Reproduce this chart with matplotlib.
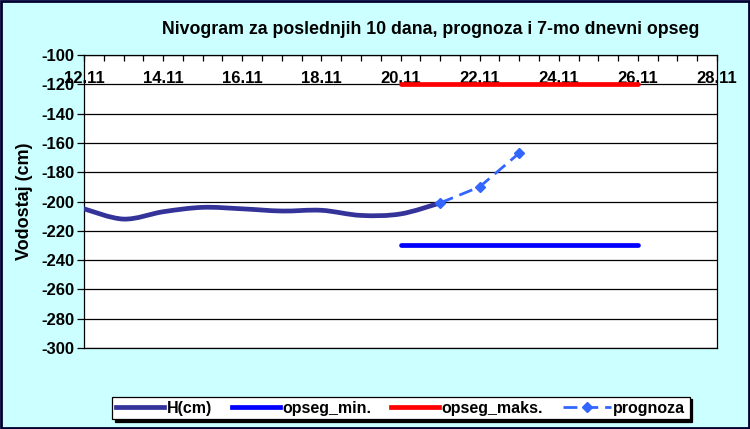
import matplotlib
matplotlib.use("Agg")
import matplotlib.pyplot as plt
from matplotlib.path import Path
from matplotlib.patches import PathPatch, Rectangle
from matplotlib.lines import Line2D
from matplotlib.ticker import MultipleLocator, FuncFormatter

plt.rcParams['font.family'] = ['Liberation Sans', 'DejaVu Sans']
plt.rcParams['font.weight'] = 'bold'
plt.rcParams['axes.unicode_minus'] = False

# ---- data (day of month, november) ----
h_days = [12, 13, 14, 15, 16, 17, 18, 19, 20, 21]
h_cm = [-205, -212, -207, -204, -205, -206.5, -206, -209.5, -208.5, -201]

opseg_days = [20, 21, 22, 23, 24, 25, 26]
opseg_min = [-230, -230, -230, -230, -230, -230, -230]
opseg_maks = [-120, -120, -120, -120, -120, -120, -120]

prog_days = [21, 22, 23]
prognoza = [-201, -190, -167]

x_min, x_max = 12, 28
y_min, y_max = -300, -100

c_h = '#333399'
c_min = '#0000FF'
c_max = '#FF0000'
c_prog = '#3366FF'
bg = '#CCFFFF'

fig = plt.figure(figsize=(7.5, 4.29), dpi=100, facecolor=bg)
ax = fig.add_axes([84/750, 1-348/429, (717-84)/750, (348-55)/429])
ax.set_facecolor('white')

# smoothed H(cm) line (excel style bezier)
pts = list(zip(h_days, h_cm))
verts = [pts[0]]
codes = [Path.MOVETO]
n = len(pts)
for i in range(n-1):
    p0 = pts[max(i-1, 0)]
    p1 = pts[i]
    p2 = pts[i+1]
    p3 = pts[min(i+2, n-1)]
    c1 = (p1[0] + (p2[0]-p0[0])/6, p1[1] + (p2[1]-p0[1])/6)
    c2 = (p2[0] - (p3[0]-p1[0])/6, p2[1] - (p3[1]-p1[1])/6)
    verts += [c1, c2, p2]
    codes += [Path.CURVE4]*3
ax.add_patch(PathPatch(Path(verts, codes), fill=False, edgecolor=c_h, lw=3.4,
                       capstyle='round', zorder=4))

ax.plot(opseg_days, opseg_min, color=c_min, lw=3.4, solid_capstyle='round', zorder=3)
ax.plot(opseg_days, opseg_maks, color=c_max, lw=3.4, solid_capstyle='round', zorder=3)
ax.plot(prog_days, prognoza, color=c_prog, lw=2, dashes=(5, 2.5), marker='D',
        markersize=5, zorder=5)

ax.set_xlim(x_min, x_max)
ax.set_ylim(y_min, y_max)
ax.yaxis.set_major_locator(MultipleLocator(20))
ax.grid(axis='y', color='black', lw=0.9)
ax.set_axisbelow(True)

ax.xaxis.set_major_locator(MultipleLocator(2))
ax.xaxis.set_minor_locator(MultipleLocator(0.5))
ax.xaxis.set_major_formatter(FuncFormatter(lambda v, p: '%d.11' % v))
ax.tick_params(axis='x', which='both', bottom=False, labelbottom=False, top=True,
               labeltop=True, direction='in', length=4, width=0.9, pad=-22,
               labelsize=12)
ax.tick_params(axis='y', direction='out', length=5, width=0.9, labelsize=12, pad=2)
for s in ax.spines.values():
    s.set_linewidth(0.9)
    s.set_color('black')

ax.set_ylabel('Vodostaj (cm)', fontsize=13, fontweight='bold', labelpad=6)

fig.text(431/750, 1-30/429, 'Nivogram za poslednjih 10 dana, prognoza i 7-mo dnevni opseg',
         ha='center', va='center', fontsize=12.8, fontweight='bold')

handles = [Line2D([], [], color=c_h, lw=3.4),
           Line2D([], [], color=c_min, lw=3.4),
           Line2D([], [], color=c_max, lw=3.4),
           Line2D([], [], color=c_prog, lw=2, dashes=(5, 2.5), marker='D', markersize=5)]
labels = ['H(cm)', 'opseg_min.', 'opseg_maks.', 'prognoza']
leg = fig.legend(handles, labels, loc='center', bbox_to_anchor=(401/750, 1-408/429),
                 ncol=4, fontsize=11.5, frameon=True, fancybox=False,
                 shadow={'color': 'black', 'alpha': 1},
                 edgecolor='black', handlelength=3.0, handletextpad=0.15, columnspacing=1.25,
                 borderpad=0.25)
leg.get_frame().set_linewidth(0.9)

fig.patches.append(Rectangle((0.001, 0.002), 0.997, 0.996, transform=fig.transFigure,
                             fill=False, edgecolor='#000033', lw=2))

fig.savefig('out.png', dpi=100, facecolor=bg)
